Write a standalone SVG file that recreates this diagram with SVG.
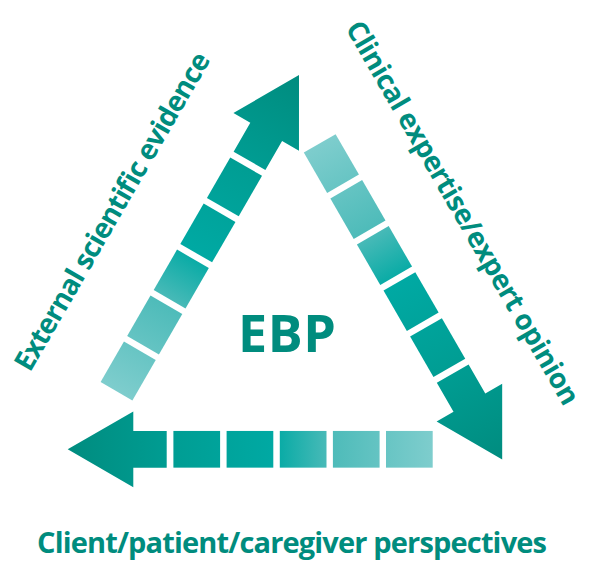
<svg xmlns="http://www.w3.org/2000/svg" width="589" height="561" viewBox="0 0 589 561">
  <defs>
    <!-- shade runs from the pale tail to the deep teal tip, in each arrow's own frame -->
    <linearGradient id="arrowShade" gradientUnits="userSpaceOnUse" x1="0" y1="0" x2="365" y2="0">
      <stop offset="0" stop-color="#7ECDCD"/>
      <stop offset="0.28" stop-color="#4DBBB9"/>
      <stop offset="0.44" stop-color="#00A9A3"/>
      <stop offset="0.7" stop-color="#009E94"/>
      <stop offset="1" stop-color="#008C7F"/>
    </linearGradient>
    <!-- one segmented arrow: tail at x=0, tip at x=365 -->
    <g id="segArrow" fill="url(#arrowShade)">
      <rect x="0" y="-18.35" width="46.7" height="36.7"/>
      <rect x="53.1" y="-18.35" width="46.7" height="36.7"/>
      <rect x="106.2" y="-18.35" width="46.7" height="36.7"/>
      <rect x="159.4" y="-18.35" width="46.7" height="36.7"/>
      <rect x="212.6" y="-18.35" width="46.7" height="36.7"/>
      <polygon points="266,-18.35 299.4,-18.35 299.4,-37.85 365,0 299.4,37.85 299.4,18.35 266,18.35"/>
    </g>
  </defs>
  <style>
    .label { font-family: "Open Sans", "Liberation Sans", sans-serif; font-weight: 700; fill: #008C7E; }
  </style>

  <!-- the three arrows forming the cycle -->
  <g id="connectors">
    <use href="#segArrow" transform="translate(116.5,391.2) rotate(-60)"/>
    <use href="#segArrow" transform="translate(319.7,143.3) rotate(60)"/>
    <use href="#segArrow" transform="translate(432.7,449.3) rotate(180)"/>
  </g>

  <g id="ebp">
    <text class="label" x="287" y="352.3" font-size="52" text-anchor="middle" textLength="98">EBP</text>
  </g>

  <g id="evidence">
    <text class="label" font-size="28" transform="translate(30,373) rotate(-60)" textLength="362">External scientific evidence</text>
  </g>

  <g id="expertise">
    <text class="label" font-size="28" transform="translate(345,28) rotate(60)" textLength="438">Clinical expertise/expert opinion</text>
  </g>

  <g id="perspectives">
    <text class="label" x="37" y="552.5" font-size="29" textLength="510">Client/patient/caregiver perspectives</text>
  </g>
</svg>
